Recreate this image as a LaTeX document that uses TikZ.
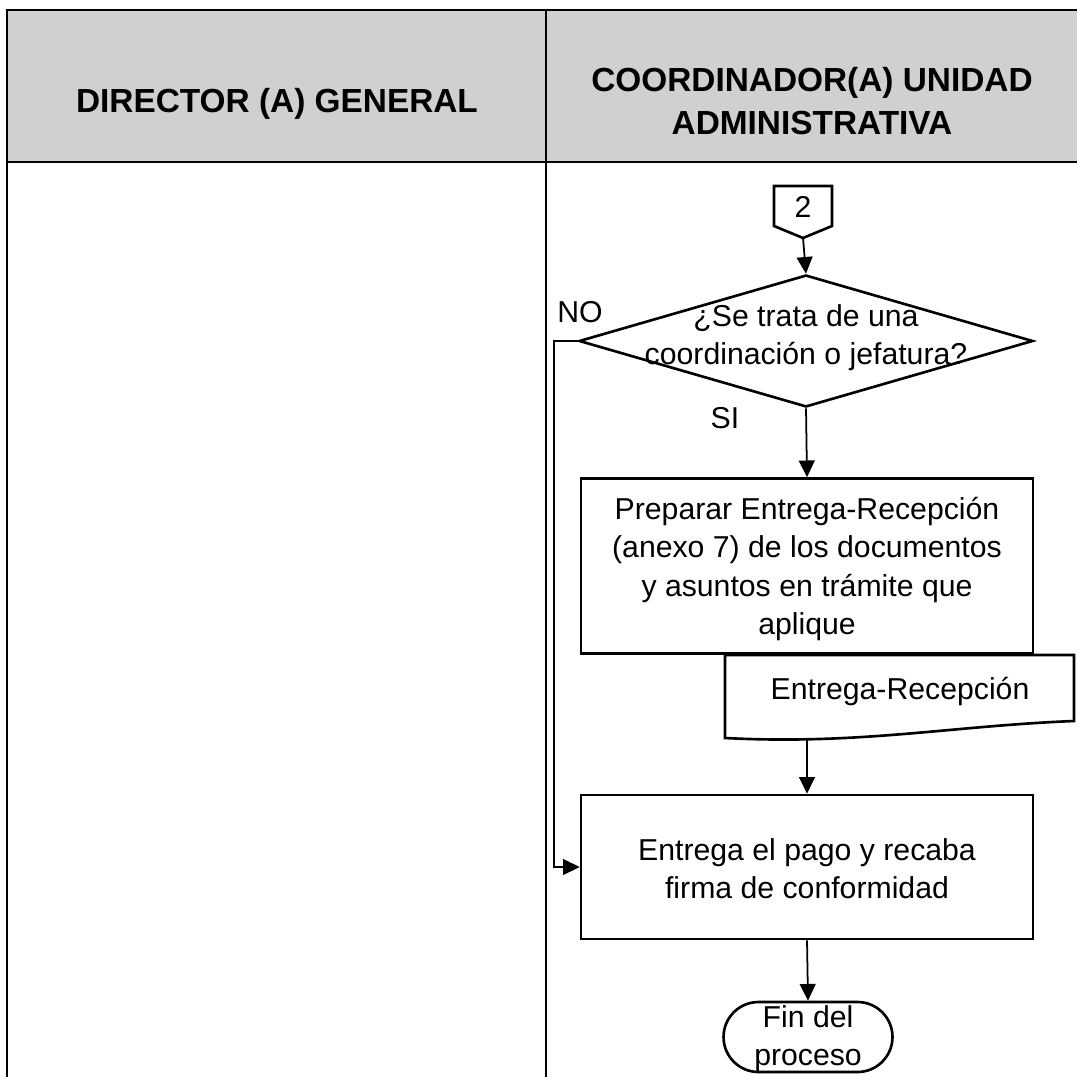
\documentclass[tikz,border=0pt]{standalone}
\usepackage{fontspec}
\setmainfont{Liberation Sans}
\usetikzlibrary{arrows.meta,shapes.geometric}
\definecolor{hdrgray}{RGB}{208,208,208}
\begin{document}
\begin{tikzpicture}[x=0.02cm,y=-0.02cm,
  every node/.style={font=\fontsize{17.2}{21.8}\selectfont},
  hdrtext/.style={font=\bfseries\fontsize{19}{24}\selectfont, align=center},
  lane/.style={line width=1.5pt},
  shp/.style={draw, line width=1.5pt},
  procbox/.style={shp, minimum width=9.04cm, align=center, inner sep=0pt},
  txt/.style={align=center, inner sep=0pt},
  arr/.style={line width=1pt, -{Triangle[length=9.5pt,width=9pt]}}]
\useasboundingbox (0,0) rectangle (1077,1077);
% swimlane table
\fill[hdrgray] (7,10) rectangle (1077,162);
\draw[lane] (1077,10) -- (7,10) -- (7,1077);
\draw[lane] (7,162) -- (1077,162);
\draw[line width=1.2pt] (546,10) -- (546,1077);
\node[hdrtext] (h1) at (277,104) {DIRECTOR (A) GENERAL};
\node[hdrtext] (h2) at (812,101) {COORDINADOR(A) UNIDAD\\ADMINISTRATIVA};
% off-page connector
\draw[shp] (774,186) -- (832,186) -- (832,226) -- (803,238) -- (774,226) -- cycle;
\node[txt] (c2) at (803,207) {2};
\coordinate (c2tip) at (803,238);
% decision
\node[shp, diamond, minimum width=9.08cm, minimum height=2.64cm, inner sep=0pt] (dec) at (806,341) {};
\node[txt] (dect) at (806,338) {¿Se trata de una\\coordinación o jefatura?};
\node[txt] (no) at (580,312) {NO};
\node[txt] (si) at (725,418) {SI};
% process 1
\node[procbox, minimum height=3.5cm] (b1) at (807,566) {};
\node[txt] (b1t) at (807,569) {Preparar Entrega-Recepción\\(anexo 7) de los documentos\\y asuntos en trámite que\\aplique};
% document
\draw[shp, fill=white] (725,655) -- (1074,655) -- (1074,721) .. controls (950,726) and (860,745) .. (725,738) -- cycle;
\node[txt] (doct) at (900,692) {Entrega-Recepción};
\coordinate (docb) at (807,740);
% process 2
\node[procbox, minimum height=2.88cm] (b2) at (807,867) {};
\node[txt] (b2t) at (807,869) {Entrega el pago y recaba\\firma de conformidad};
% terminal
\node[shp, rounded corners=0.7cm, minimum width=3.38cm, minimum height=1.4cm, inner sep=0pt] (fin) at (808,1037) {};
\node[txt] (fint) at (808,1039) {Fin del\\proceso};
% connectors
\draw[arr] (c2tip) -- (dec.north);
\draw[arr] (dec.south) -- (b1.north);
\draw[arr] (docb) -- (b2.north);
\draw[arr] (dec.west) -- (554,341) |- (b2.west);
\draw[arr] (b2.south) -- (fin.north);
\end{tikzpicture}
\end{document}
